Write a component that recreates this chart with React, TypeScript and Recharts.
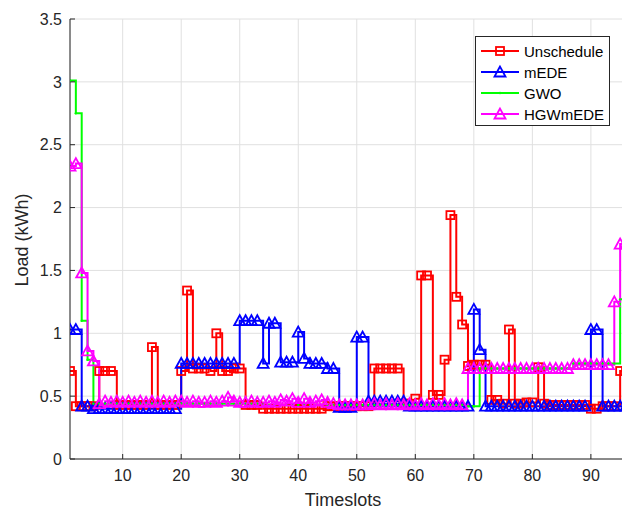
import React from "react";
import { LineChart, Line, XAxis, YAxis, CartesianGrid } from "recharts";

const FONT = '"Liberation Sans", Arial, Helvetica, sans-serif';
const INK = "#262626";

const TIMESLOTS = [
  1, 2, 3, 4, 5, 6, 7, 8, 9, 10, 11, 12, 13, 14, 15, 16, 17, 18, 19, 20,
  21, 22, 23, 24, 25, 26, 27, 28, 29, 30, 31, 32, 33, 34, 35, 36, 37, 38, 39, 40,
  41, 42, 43, 44, 45, 46, 47, 48, 49, 50, 51, 52, 53, 54, 55, 56, 57, 58, 59, 60,
  61, 62, 63, 64, 65, 66, 67, 68, 69, 70, 71, 72, 73, 74, 75, 76, 77, 78, 79, 80,
  81, 82, 83, 84, 85, 86, 87, 88, 89, 90, 91, 92, 93, 94, 95, 96,
];

const UNSCHEDULE = [
  0.70, 0.42, 0.42, 0.42, 0.42, 0.70, 0.70, 0.70, 0.43, 0.43,
  0.43, 0.43, 0.43, 0.43, 0.89, 0.43, 0.43, 0.43, 0.43, 0.70,
  1.34, 0.72, 0.72, 0.72, 0.70, 1.00, 0.70, 0.70, 0.72, 0.72,
  0.43, 0.43, 0.43, 0.40, 0.40, 0.40, 0.40, 0.40, 0.40, 0.40,
  0.40, 0.40, 0.40, 0.40, 0.42, 0.42, 0.42, 0.42, 0.42, 0.42,
  0.42, 0.42, 0.72, 0.72, 0.72, 0.72, 0.72, 0.44, 0.44, 0.48,
  1.46, 1.46, 0.51, 0.51, 0.79, 1.94, 1.29, 1.07, 0.74, 0.75,
  0.75, 0.75, 0.47, 0.47, 0.44, 1.03, 0.44, 0.44, 0.45, 0.45,
  0.73, 0.44, 0.43, 0.43, 0.43, 0.43, 0.43, 0.43, 0.43, 0.40,
  0.40, 0.42, 0.42, 0.42, 0.70, 0.70,
];

const MEDE = [
  1.03, 1.03, 0.42, 0.42, 0.40, 0.40, 0.40, 0.40, 0.40, 0.40,
  0.40, 0.40, 0.40, 0.40, 0.40, 0.40, 0.40, 0.40, 0.40, 0.76,
  0.76, 0.76, 0.76, 0.76, 0.76, 0.76, 0.76, 0.76, 0.76, 1.10,
  1.10, 1.10, 1.10, 0.76, 1.08, 1.08, 0.77, 0.77, 0.77, 1.01,
  0.80, 0.76, 0.76, 0.76, 0.72, 0.72, 0.41, 0.41, 0.41, 0.97,
  0.97, 0.46, 0.46, 0.46, 0.46, 0.46, 0.46, 0.46, 0.42, 0.42,
  0.42, 0.42, 0.42, 0.42, 0.42, 0.42, 0.42, 0.42, 0.42, 1.19,
  0.87, 0.42, 0.42, 0.42, 0.42, 0.42, 0.42, 0.42, 0.42, 0.42,
  0.42, 0.42, 0.42, 0.42, 0.42, 0.42, 0.42, 0.42, 0.42, 1.03,
  1.03, 0.42, 0.42, 0.42, 0.42, 0.42,
];

const GWO = [
  3.01, 2.75, 1.10, 0.79, 0.44, 0.44, 0.44, 0.44, 0.44, 0.44,
  0.44, 0.44, 0.44, 0.44, 0.44, 0.44, 0.44, 0.44, 0.44, 0.44,
  0.44, 0.44, 0.44, 0.44, 0.44, 0.44, 0.44, 0.44, 0.44, 0.44,
  0.44, 0.44, 0.44, 0.43, 0.43, 0.43, 0.43, 0.43, 0.43, 0.43,
  0.43, 0.43, 0.43, 0.43, 0.43, 0.43, 0.43, 0.43, 0.43, 0.43,
  0.43, 0.43, 0.43, 0.43, 0.43, 0.43, 0.43, 0.43, 0.43, 0.43,
  0.43, 0.43, 0.43, 0.43, 0.43, 0.43, 0.43, 0.43, 0.42, 0.42,
  0.72, 0.72, 0.72, 0.72, 0.72, 0.72, 0.72, 0.72, 0.72, 0.72,
  0.72, 0.72, 0.72, 0.72, 0.72, 0.72, 0.76, 0.76, 0.76, 0.76,
  0.76, 0.76, 0.76, 0.76, 1.27, 1.27,
];

const HGWMEDE = [
  2.33, 2.35, 1.48, 0.86, 0.78, 0.44, 0.46, 0.45, 0.46, 0.45,
  0.46, 0.45, 0.46, 0.45, 0.46, 0.45, 0.46, 0.45, 0.46, 0.46,
  0.45, 0.46, 0.45, 0.45, 0.46, 0.45, 0.46, 0.49, 0.46, 0.45,
  0.45, 0.46, 0.45, 0.45, 0.46, 0.45, 0.47, 0.46, 0.48, 0.45,
  0.48, 0.45, 0.46, 0.47, 0.45, 0.44, 0.43, 0.43, 0.43, 0.43,
  0.43, 0.43, 0.44, 0.43, 0.44, 0.43, 0.44, 0.43, 0.44, 0.43,
  0.44, 0.43, 0.44, 0.43, 0.44, 0.43, 0.44, 0.43, 0.72, 0.72,
  0.72, 0.72, 0.72, 0.72, 0.72, 0.72, 0.72, 0.72, 0.72, 0.72,
  0.72, 0.72, 0.72, 0.72, 0.72, 0.72, 0.75, 0.75, 0.75, 0.75,
  0.75, 0.75, 0.75, 1.25, 1.71, 1.71,
];

const X_TICKS = [10, 20, 30, 40, 50, 60, 70, 80, 90];
const Y_TICKS = [0, 0.5, 1, 1.5, 2, 2.5, 3, 3.5];

const SERIES = [
  { key: "unschedule", name: "Unschedule", color: "#ff0000", marker: "square" },
  { key: "mede", name: "mEDE", color: "#0000ff", marker: "triangle" },
  { key: "gwo", name: "GWO", color: "#00ff00", marker: "point" },
  { key: "hgwmede", name: "HGWmEDE", color: "#ff00ff", marker: "triangle" },
];

const data = TIMESLOTS.map((t, i) => ({
  t,
  unschedule: UNSCHEDULE[i],
  mede: MEDE[i],
  gwo: GWO[i],
  hgwmede: HGWMEDE[i],
}));

function Marker({ kind, cx, cy, color }: { kind: string; cx: number; cy: number; color: string }) {
  if (kind === "square") {
    return <rect x={cx - 4} y={cy - 4} width={8} height={8} fill="none" stroke={color} strokeWidth={1.8} />;
  }
  if (kind === "triangle") {
    return (
      <polygon
        points={`${cx},${cy - 5.5} ${cx - 5.5},${cy + 4.5} ${cx + 5.5},${cy + 4.5}`}
        fill="none"
        stroke={color}
        strokeWidth={1.8}
      />
    );
  }
  return <circle cx={cx} cy={cy} r={1.2} fill={color} />;
}

function makeDot(kind: string, color: string) {
  return (props: any) => {
    const { cx, cy, index } = props;
    if (cx == null || cy == null) return <g key={index} />;
    return (
      <g key={index}>
        <Marker kind={kind} cx={cx} cy={cy} color={color} />
      </g>
    );
  };
}

function LegendBox() {
  return (
    <div
      style={{
        position: "absolute",
        left: 475,
        top: 36,
        width: 133,
        height: 88,
        border: `1px solid ${INK}`,
        background: "#fff",
        fontFamily: FONT,
        fontSize: 15,
        color: "#000",
      }}
    >
      {SERIES.map((s, i) => (
        <div key={s.key} style={{ position: "absolute", left: 0, top: 4 + i * 21, height: 20, display: "flex", alignItems: "center" }}>
          <svg width={48} height={20} style={{ display: "block" }}>
            <line x1={5} y1={10} x2={43} y2={10} stroke={s.color} strokeWidth={2} />
            <Marker kind={s.marker} cx={24} cy={10} color={s.color} />
          </svg>
          <span>{s.name}</span>
        </div>
      ))}
    </div>
  );
}

export default function App() {
  return (
    <div style={{ position: "absolute", left: 0, top: 0, width: 622, height: 512, overflow: "hidden", background: "#fff" }}>
      <LineChart width={640} height={512} data={data} margin={{ top: 19, right: 14, bottom: 0, left: 0 }}>
        <CartesianGrid stroke="#e0e0e0" strokeWidth={1} />
        <XAxis
          type="number"
          dataKey="t"
          domain={[1, 96]}
          ticks={X_TICKS}
          height={53}
          tickSize={-5}
          tickMargin={16}
          axisLine={{ stroke: INK }}
          tickLine={{ stroke: INK }}
          tick={{ fill: INK, fontSize: 16, fontFamily: FONT }}
          allowDataOverflow
          label={{
            content: () => (
              <text x={343} y={506} textAnchor="middle" fill={INK} fontSize={18} fontFamily={FONT}>
                Timeslots
              </text>
            ),
          }}
        />
        <YAxis
          type="number"
          domain={[0, 3.5]}
          ticks={Y_TICKS}
          width={70}
          tickSize={-5}
          tickMargin={13}
          axisLine={{ stroke: INK }}
          tickLine={{ stroke: INK }}
          tick={{ fill: INK, fontSize: 16, fontFamily: FONT }}
          tickFormatter={(v: number) => String(v)}
          label={{
            content: () => (
              <text
                x={28}
                y={240}
                transform="rotate(-90, 28, 240)"
                textAnchor="middle"
                fill={INK}
                fontSize={18}
                fontFamily={FONT}
              >
                Load (kWh)
              </text>
            ),
          }}
        />
        {SERIES.map((s) => (
          <Line
            key={s.key}
            type="stepAfter"
            dataKey={s.key}
            name={s.name}
            stroke={s.color}
            strokeWidth={2}
            dot={makeDot(s.marker, s.color)}
            activeDot={false}
            isAnimationActive={false}
          />
        ))}
      </LineChart>
      <LegendBox />
    </div>
  );
}
